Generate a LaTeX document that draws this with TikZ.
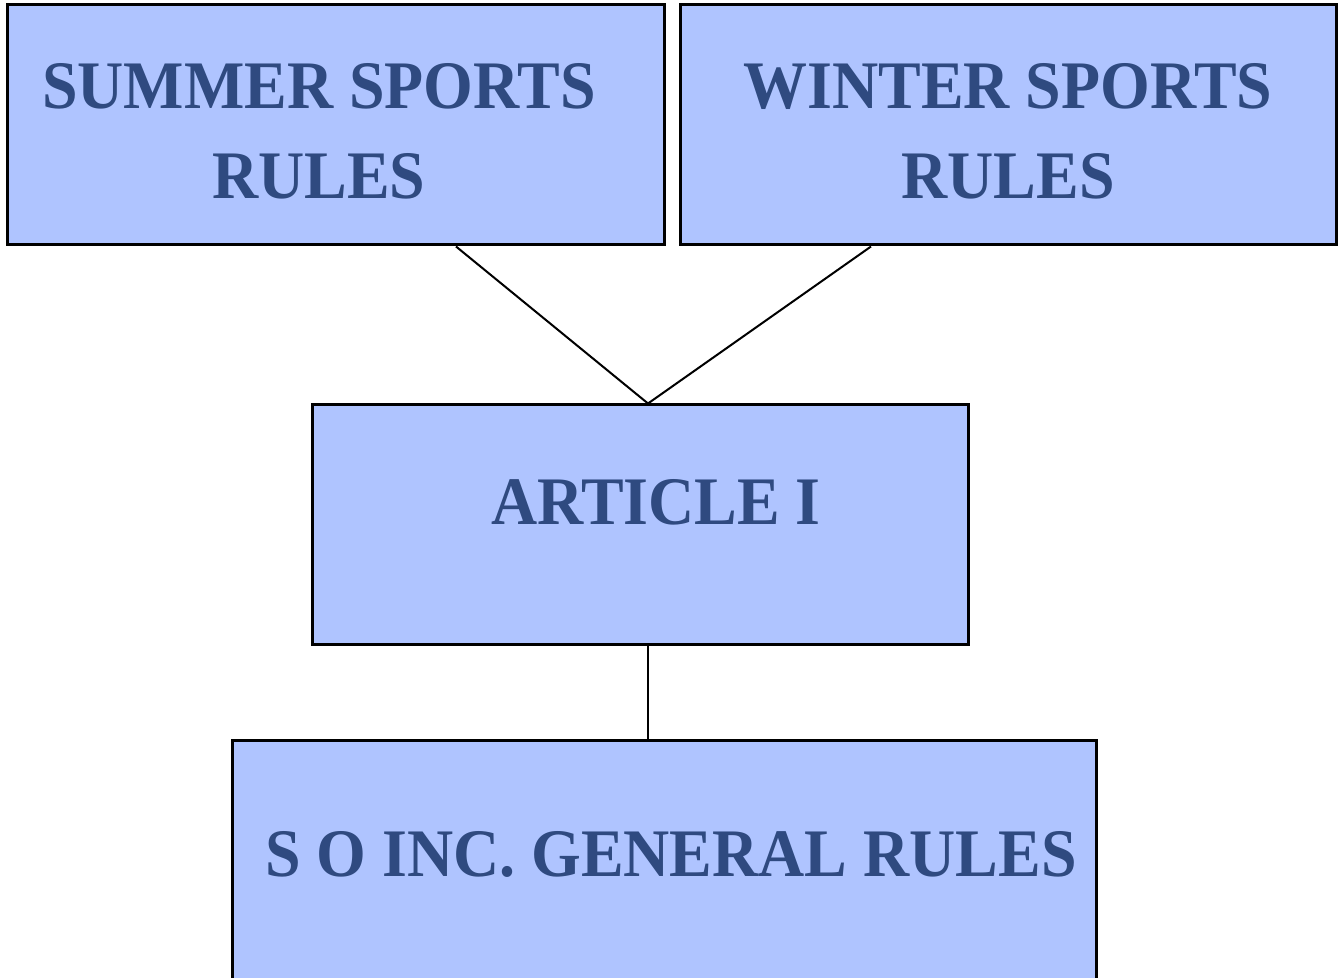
\documentclass[tikz,border=0pt]{standalone}
\usepackage{fontspec}
\setmainfont{Liberation Serif}[FakeStretch=0.94]
\usetikzlibrary{positioning}

\definecolor{boxfill}{RGB}{175,196,255}
\definecolor{boxtext}{RGB}{47,74,128}

\tikzset{
    rulebox/.style={draw=black, line width=1.5pt, fill=boxfill, inner sep=0pt},
    ruletext/.style={text=boxtext, align=center, inner sep=0pt,
        font=\fontsize{34}{45}\selectfont\bfseries},
    link/.style={draw=black, line width=1pt}
}

\begin{document}
\begin{tikzpicture}[x=0.5pt, y=-0.5pt]

    % --- Frame ---
    \useasboundingbox (0,0) rectangle (1341,978);
    \clip (0,0) rectangle (1341,978);

    % --- Boxes ---
    \node[rulebox, minimum width=328.5pt, minimum height=120pt] (summer) at (335.5,125) {};
    \node[rulebox, minimum width=328pt, minimum height=120pt] (winter) at (1008,125) {};
    \node[rulebox, minimum width=328pt, minimum height=120pt] (article) at (640,525) {};
    \node[rulebox, minimum width=432pt, minimum height=140pt] (general) at (664,881) {};

    % --- Texts ---
    \node[ruletext] (summertxt) at (319,131.5) {SUMMER SPORTS\\RULES};
    \node[ruletext] (wintertxt) at (1008,131.5) {WINTER SPORTS\\RULES};
    \node[ruletext] (articletxt) at (656,502) {ARTICLE I};
    \node[ruletext] (generaltxt) at (671,854.5) {S O INC. GENERAL RULES};

    % --- Connectors ---
    \coordinate (summerfoot) at (summer.south -| 456,0);
    \coordinate (winterfoot) at (winter.south -| 871,0);
    \coordinate (articletop) at (article.north -| 648,0);
    \coordinate (articlefoot) at (article.south -| 648,0);
    \coordinate (generaltop) at (general.north -| 648,0);
    \draw[link] (summerfoot) -- (articletop) -- (winterfoot);
    \draw[link] (articlefoot) -- (generaltop);

\end{tikzpicture}
\end{document}
